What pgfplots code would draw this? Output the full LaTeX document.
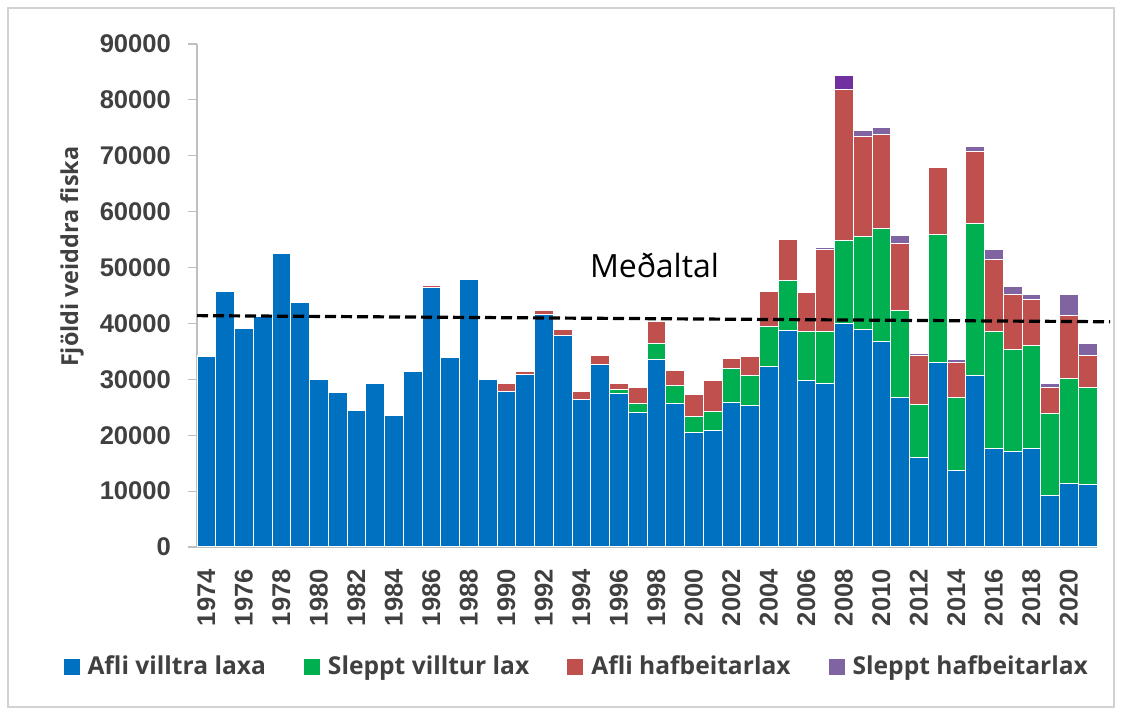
\documentclass[border=0pt]{standalone}
\usepackage{fontspec}
\usepackage{pgfplots}
\usepackage{pgfplotstable}
\pgfplotsset{compat=1.18}

\newfontfamily\tickfont{Liberation Sans}
\newfontfamily\osfont{Open Sans}

\definecolor{cBlue}{HTML}{0070C0}
\definecolor{cGreen}{HTML}{00B050}
\definecolor{cRed}{HTML}{C0504D}
\definecolor{cPurple}{HTML}{8064A2}
\definecolor{cPurpleDk}{HTML}{7030A0}
\definecolor{txtgray}{HTML}{404040}
\definecolor{axgray}{HTML}{BFBFBF}

% year, afli villtra, sleppt villtur, afli hafbeitar, sleppt hafbeitar, (2008 sleppt hafbeitar)
\pgfplotstableread{
year blue green red purple purpledk
1974 34000 0 200 0 0
1975 45700 0 100 0 0
1976 39100 0 100 0 0
1977 41200 0 100 0 0
1978 52600 0 100 0 0
1979 43800 0 150 0 0
1980 29900 0 50 0 0
1981 27600 0 100 0 0
1982 24500 0 100 0 0
1983 29200 0 100 0 0
1984 23600 0 50 0 0
1985 31400 0 150 0 0
1986 46500 0 250 0 0
1987 33900 0 50 0 0
1988 47800 0 150 0 0
1989 30000 0 50 0 0
1990 27800 0 1500 0 0
1991 30900 0 500 0 0
1992 41600 0 700 0 0
1993 37900 0 1000 0 0
1994 26400 0 1500 0 0
1995 32600 0 1600 0 0
1996 27400 700 1200 0 0
1997 24000 1600 3000 0 0
1998 33600 2800 3900 0 0
1999 25700 3200 2600 0 0
2000 20500 2900 3800 0 0
2001 20800 3500 5500 0 0
2002 25900 6000 1900 100 0
2003 25400 5200 3400 100 0
2004 32300 7100 6300 100 0
2005 38700 8900 7400 200 0
2006 29800 8700 7000 100 0
2007 29300 9200 14750 350 0
2008 40000 14800 27000 0 2600
2009 38900 16600 18000 1000 0
2010 36700 20300 16800 1200 0
2011 26800 15500 12000 1500 0
2012 16000 9500 8800 350 0
2013 33000 23000 11900 200 0
2014 13700 13100 6300 500 0
2015 30700 27200 12800 1000 0
2016 17700 20800 12900 1900 0
2017 17100 18300 9800 1400 0
2018 17700 18400 8200 900 0
2019 9300 14600 4700 600 0
2020 11400 18800 11300 3600 0
2021 11200 17400 5700 2100 0
}\fishdata

\begin{document}
\begin{tikzpicture}[x=0.5pt,y=0.5pt]
\path[use as bounding box] (0,0) rectangle (1122,715);
\draw[axgray!70,line width=0.6pt] (8,8) rectangle (1114,707);
\begin{axis}[
  at={(98.5pt,84pt)}, anchor=south west,
  scale only axis,
  width=450pt, height=251.5pt,
  ybar stacked,
  bar width=1,
  xmin=1973.5, xmax=2021.5,
  ymin=0, ymax=90000,
  ytick={0,10000,...,90000},
  scaled y ticks=false,
  xtick={1974,1976,...,2020},
  axis x line=bottom, axis y line=left,
  axis line style={-, draw=axgray},
  x axis line style={line width=1pt},
  y axis line style={line width=0.6pt},
  xtick style={draw=none},
  ytick style={draw=axgray, line width=0.6pt},
  tick align=outside,
  major tick length=4.5pt,
  /pgf/number format/1000 sep={},
  /pgf/number format/assume math mode=true,
  tick label style={font=\tickfont\bfseries\fontsize{12.8}{14}\selectfont, text=txtgray},
  xticklabel style={rotate=90, anchor=east, xshift=-3pt},
  yticklabel style={xshift=-5pt},
  ylabel={Fjöldi veiddra fiska},
  ylabel style={at={(axis description cs:-0.139,0.577)}, anchor=center,
    font=\osfont\bfseries\fontsize{11.7}{14}\selectfont, text=txtgray},
  legend columns=4,
  legend style={at={(0.423,-0.2386)}, anchor=center, draw=none, fill=none,
    font=\osfont\bfseries\fontsize{12.3}{14}\selectfont, text=txtgray,
    /tikz/every odd column/.append style={column sep=2pt},
    /tikz/every even column/.append style={column sep=17pt}},
  legend image code/.code={\fill[#1,draw=none] (0pt,-4pt) rectangle (8pt,4pt);},
  every axis plot/.append style={draw=white, line width=0.5pt},
  clip=false,
]
\addplot[fill=cBlue] table[x=year,y=blue] {\fishdata};
\addplot[fill=cGreen] table[x=year,y=green] {\fishdata};
\addplot[fill=cRed] table[x=year,y=red] {\fishdata};
\addplot[fill=cPurple] table[x=year,y=purple] {\fishdata};
\addplot[fill=cPurpleDk, forget plot] table[x=year,y=purpledk] {\fishdata};
\legend{Afli villtra laxa, Sleppt villtur lax, Afli hafbeitarlax, Sleppt hafbeitarlax}
\end{axis}
\begin{axis}[
  at={(98.5pt,84pt)}, anchor=south west,
  scale only axis,
  width=450pt, height=251.5pt,
  xmin=1973.5, xmax=2021.5,
  ymin=0, ymax=90000,
  axis lines=none, clip=false,
]
\addplot[black, dashed, line width=1.6pt, dash pattern=on 5.5pt off 2.5pt]
  coordinates {(1973.5,41400) (2022.2,40300)};
\node[font=\osfont\fontsize{16}{18}\selectfont, text=black] at (axis cs:1997.9,50460) {Meðaltal};
\end{axis}
\end{tikzpicture}
\end{document}
